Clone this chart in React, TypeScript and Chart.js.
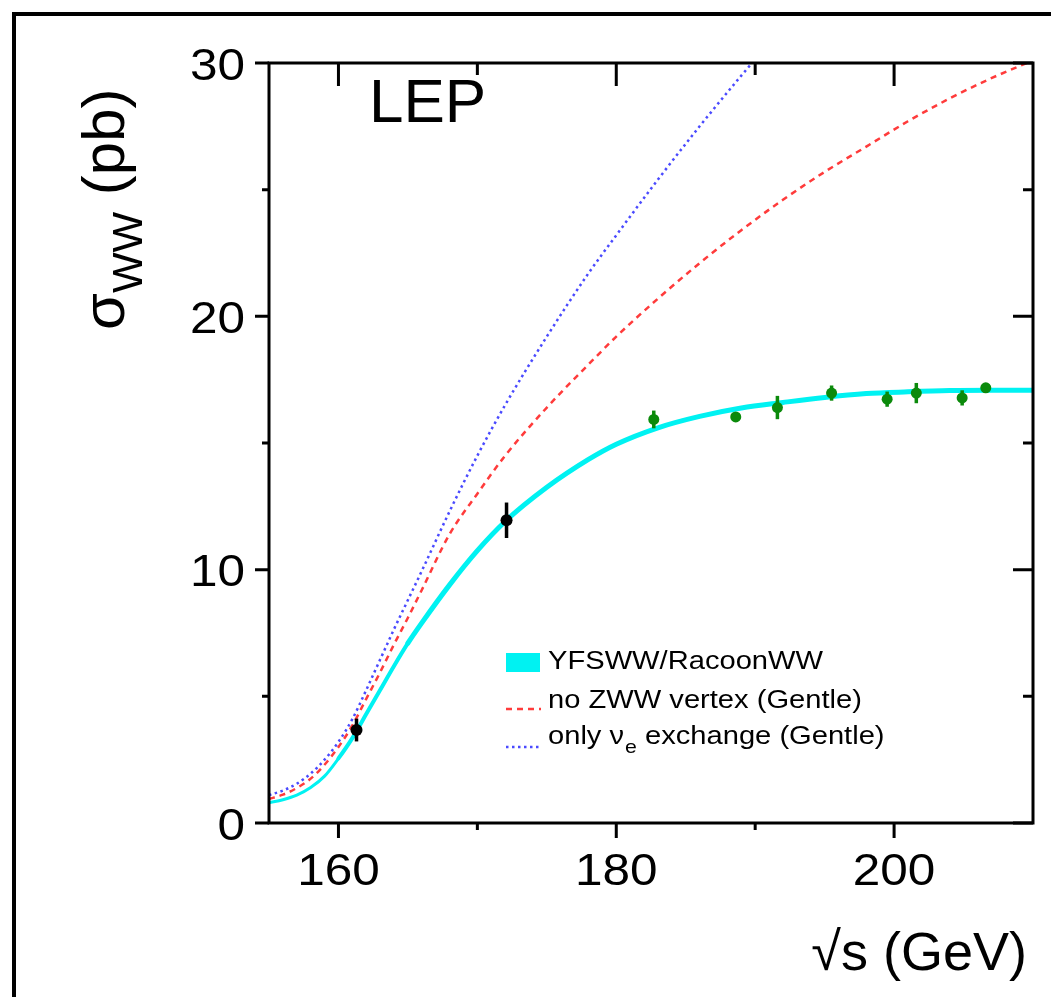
import React, { useEffect, useRef } from 'react';
import { Chart, registerables } from 'chart.js';

Chart.register(...registerables);

// ---- data ----
const energyGrid = [155, 156, 157, 158, 159, 160, 161, 162, 163, 164, 165, 166, 168, 170, 172, 175, 178, 180, 183, 186, 189, 192, 195, 198, 201, 204, 207, 210];
const yfswwSigma = [0.8, 0.92, 1.1, 1.4, 1.85, 2.55, 3.35, 4.3, 5.25, 6.2, 7.1, 7.9, 9.4, 10.75, 11.9, 13.25, 14.35, 14.95, 15.6, 16.05, 16.38, 16.6, 16.8, 16.95, 17.02, 17.07, 17.08, 17.08];
const noZwwSigma = [0.95, 1.12, 1.38, 1.75, 2.3, 3.0, 3.85, 4.9, 5.95, 7.05, 8.1, 9.2, 11.4, 13.0, 14.5, 16.4, 18.1, 19.2, 20.7, 22.1, 23.4, 24.6, 25.7, 26.7, 27.7, 28.6, 29.4, 30.1];
const nueEnergy = [155, 156, 157, 158, 159, 160, 161, 162, 163, 164, 165, 166, 168, 170, 172, 175, 178, 180, 183, 186, 189, 192];
const nueOnlySigma = [1.1, 1.28, 1.55, 1.95, 2.5, 3.2, 4.1, 5.25, 6.45, 7.65, 8.8, 9.95, 12.3, 14.5, 16.5, 19.2, 21.7, 23.2, 25.4, 27.5, 29.5, 31.4];

const lowEnergy = [161.3, 172.1];
const lowSigma = [3.67, 11.95];
const lowErr = [0.45, 0.7];

const highEnergy = [182.7, 188.6, 191.6, 195.5, 199.5, 201.6, 204.9, 206.6];
const highSigma = [15.93, 16.03, 16.4, 16.97, 16.73, 16.97, 16.78, 17.18];
const highErr = [0.35, 0.15, 0.46, 0.3, 0.3, 0.4, 0.3, 0.15];

const xMajorTicks = [160, 180, 200];
const xMinorTicks = [170, 190];
const yMajorTicks = [0, 10, 20, 30];
const yMinorTicks = [5, 15, 25];

const legendLabels = ['YFSWW/RacoonWW', 'no ZWW vertex (Gentle)', 'only ν', 'e', ' exchange (Gentle)'];

const FONT = '"Liberation Sans", Arial, Helvetica, sans-serif';
const CYAN = '#00f2f2';
const RED = '#ff3b3b';
const BLUE = '#4a4aff';
const GREEN = '#0b8a0b';

const toXY = (xs: number[], ys: number[]) => xs.map((x, i) => ({ x, y: ys[i] }));

// draws text with a horizontal stretch, returns the advance width on screen
function stretchText(ctx: any, text: string, x: number, y: number, size: number, sx: number, align: string) {
  ctx.save();
  ctx.font = `${size}px ${FONT}`;
  ctx.textAlign = align;
  ctx.textBaseline = 'alphabetic';
  ctx.translate(x, y);
  ctx.scale(sx, 1);
  ctx.fillText(text, 0, 0);
  const w = ctx.measureText(text).width * sx;
  ctx.restore();
  return w;
}

const decorPlugin = {
  id: 'decor',
  beforeDraw(chart: any) {
    const { ctx, width, height } = chart;
    ctx.save();
    ctx.fillStyle = '#fff';
    ctx.fillRect(0, 0, width, height);
    ctx.strokeStyle = '#000';
    ctx.lineWidth = 4;
    ctx.strokeRect(14, 14, width + 50, height + 50);
    ctx.restore();
  },
  beforeDatasetDraw(chart: any, args: any) {
    const ds = chart.data.datasets[args.index];
    if (!ds.errors) return;
    const { ctx } = chart;
    const xs = chart.scales.x;
    const ys = chart.scales.y;
    ctx.save();
    ctx.strokeStyle = ds.backgroundColor;
    ctx.lineWidth = 3.5;
    ds.data.forEach((p: any, i: number) => {
      const e = ds.errors[i];
      const px = xs.getPixelForValue(p.x);
      ctx.beginPath();
      ctx.moveTo(px, ys.getPixelForValue(p.y - e));
      ctx.lineTo(px, ys.getPixelForValue(p.y + e));
      ctx.stroke();
    });
    ctx.restore();
  },
  afterDraw(chart: any) {
    const { ctx } = chart;
    const { left, right, top, bottom } = chart.chartArea;
    const xs = chart.scales.x;
    const ys = chart.scales.y;
    ctx.save();
    ctx.strokeStyle = '#000';
    ctx.lineWidth = 3;
    ctx.strokeRect(left, top, right - left, bottom - top);
    ctx.beginPath();
    xMajorTicks.forEach((v) => {
      const px = xs.getPixelForValue(v);
      ctx.moveTo(px, bottom); ctx.lineTo(px, bottom + 15);
      ctx.moveTo(px, top); ctx.lineTo(px, top + 23);
    });
    xMinorTicks.forEach((v) => {
      const px = xs.getPixelForValue(v);
      ctx.moveTo(px, bottom); ctx.lineTo(px, bottom + 7);
      ctx.moveTo(px, top); ctx.lineTo(px, top + 12);
    });
    yMajorTicks.forEach((v) => {
      const py = ys.getPixelForValue(v);
      ctx.moveTo(left - 14, py); ctx.lineTo(left, py);
      ctx.moveTo(right, py); ctx.lineTo(right - 20, py);
    });
    yMinorTicks.forEach((v) => {
      const py = ys.getPixelForValue(v);
      ctx.moveTo(left - 7, py); ctx.lineTo(left, py);
      ctx.moveTo(right, py); ctx.lineTo(right - 10, py);
    });
    ctx.stroke();

    // tick labels, placed through the scales
    ctx.fillStyle = '#000';
    xMajorTicks.forEach((v) => {
      stretchText(ctx, String(v), xs.getPixelForValue(v), 885, 45, 1.1, 'center');
    });
    yMajorTicks.forEach((v) => {
      stretchText(ctx, String(v), 245, ys.getPixelForValue(v) + 16.5, 45, 1.1, 'right');
    });

    // axis titles
    stretchText(ctx, '√s (GeV)', 1027, 970, 54, 1.0, 'right');

    ctx.save();
    ctx.translate(124, 330);
    ctx.rotate(-Math.PI / 2);
    ctx.textAlign = 'left';
    ctx.font = `60px ${FONT}`;
    ctx.fillText('σ', 0, 0);
    let w = ctx.measureText('σ').width;
    ctx.font = `43px ${FONT}`;
    ctx.fillText('WW', w, 18);
    w += ctx.measureText('WW').width;
    ctx.font = `60px ${FONT}`;
    ctx.fillText(' (pb)', w, 0);
    ctx.restore();

    stretchText(ctx, 'LEP', 369, 122, 62, 1.0, 'left');

    // legend
    ctx.fillStyle = CYAN;
    ctx.fillRect(506, 653, 34, 19);
    ctx.lineWidth = 2.5;
    ctx.strokeStyle = RED;
    ctx.setLineDash([6, 5]);
    ctx.beginPath(); ctx.moveTo(506, 709); ctx.lineTo(541, 709); ctx.stroke();
    ctx.strokeStyle = BLUE;
    ctx.setLineDash([2.5, 3.5]);
    ctx.beginPath(); ctx.moveTo(506, 747); ctx.lineTo(541, 747); ctx.stroke();
    ctx.setLineDash([]);
    ctx.fillStyle = '#000';
    const LS = 26;
    const SX = 1.12;
    stretchText(ctx, legendLabels[0], 548, 669, LS, SX, 'left');
    stretchText(ctx, legendLabels[1], 548, 708, LS, SX, 'left');
    let lx = 548 + stretchText(ctx, legendLabels[2], 548, 744, LS, SX, 'left');
    lx += 1 + stretchText(ctx, legendLabels[3], lx + 1, 753, 19, SX, 'left');
    stretchText(ctx, legendLabels[4], lx, 744, LS, SX, 'left');
    ctx.restore();
  },
};

export default function App() {
  const canvasRef = useRef<HTMLCanvasElement | null>(null);

  useEffect(() => {
    if (!canvasRef.current) return;
    const chart = new Chart(canvasRef.current, {
      type: 'line',
      data: {
        datasets: [
          {
            label: 'LEP (161-172 GeV)',
            data: toXY(lowEnergy, lowSigma),
            errors: lowErr,
            showLine: false,
            pointRadius: 6,
            pointBackgroundColor: '#000',
            pointBorderWidth: 0,
            backgroundColor: '#000',
            borderColor: '#000',
          } as any,
          {
            label: 'LEP (183-207 GeV)',
            data: toXY(highEnergy, highSigma),
            errors: highErr,
            showLine: false,
            pointRadius: 5.5,
            pointBackgroundColor: GREEN,
            pointBorderWidth: 0,
            backgroundColor: GREEN,
            borderColor: GREEN,
          } as any,
          {
            label: 'YFSWW/RacoonWW',
            data: toXY(energyGrid, yfswwSigma),
            borderColor: CYAN,
            borderWidth: 5,
            borderCapStyle: 'round',
            segment: {
              borderWidth: (c: any) => (c.p0.parsed.x < 160 ? 3 : c.p0.parsed.x < 165 ? 4 : 5),
            },
            pointRadius: 0,
            cubicInterpolationMode: 'monotone',
          } as any,
          {
            label: 'no ZWW vertex (Gentle)',
            data: toXY(energyGrid, noZwwSigma),
            borderColor: RED,
            borderWidth: 2.5,
            borderDash: [6, 5],
            pointRadius: 0,
            cubicInterpolationMode: 'monotone',
          },
          {
            label: 'only νe exchange (Gentle)',
            data: toXY(nueEnergy, nueOnlySigma),
            borderColor: BLUE,
            borderWidth: 2.5,
            borderDash: [2.5, 3.5],
            pointRadius: 0,
            cubicInterpolationMode: 'monotone',
          },
        ],
      },
      options: {
        animation: false,
        responsive: false,
        devicePixelRatio: 1,
        layout: { padding: { top: 63, right: 18, bottom: 0, left: 0 } },
        plugins: { legend: { display: false }, tooltip: { enabled: false } },
        scales: {
          x: {
            type: 'linear',
            position: 'bottom',
            min: 155,
            max: 210,
            grid: { display: false, drawTicks: false },
            border: { display: false },
            afterBuildTicks: (s: any) => { s.ticks = xMajorTicks.map((v) => ({ value: v })); },
            afterFit: (s: any) => { s.height = 174; },
            ticks: { display: false },
          },
          y: {
            type: 'linear',
            min: 0,
            max: 30,
            grid: { display: false, drawTicks: false },
            border: { display: false },
            afterBuildTicks: (s: any) => { s.ticks = yMajorTicks.map((v) => ({ value: v })); },
            afterFit: (s: any) => { s.width = 269; },
            ticks: { display: false },
          },
        },
      } as any,
      plugins: [decorPlugin],
    });
    return () => chart.destroy();
  }, []);

  return (
    <div style={{ position: 'fixed', left: 0, top: 0, width: 1051, height: 997, background: '#fff', overflow: 'hidden' }}>
      <canvas ref={canvasRef} width={1051} height={997} style={{ display: 'block' }} />
    </div>
  );
}
